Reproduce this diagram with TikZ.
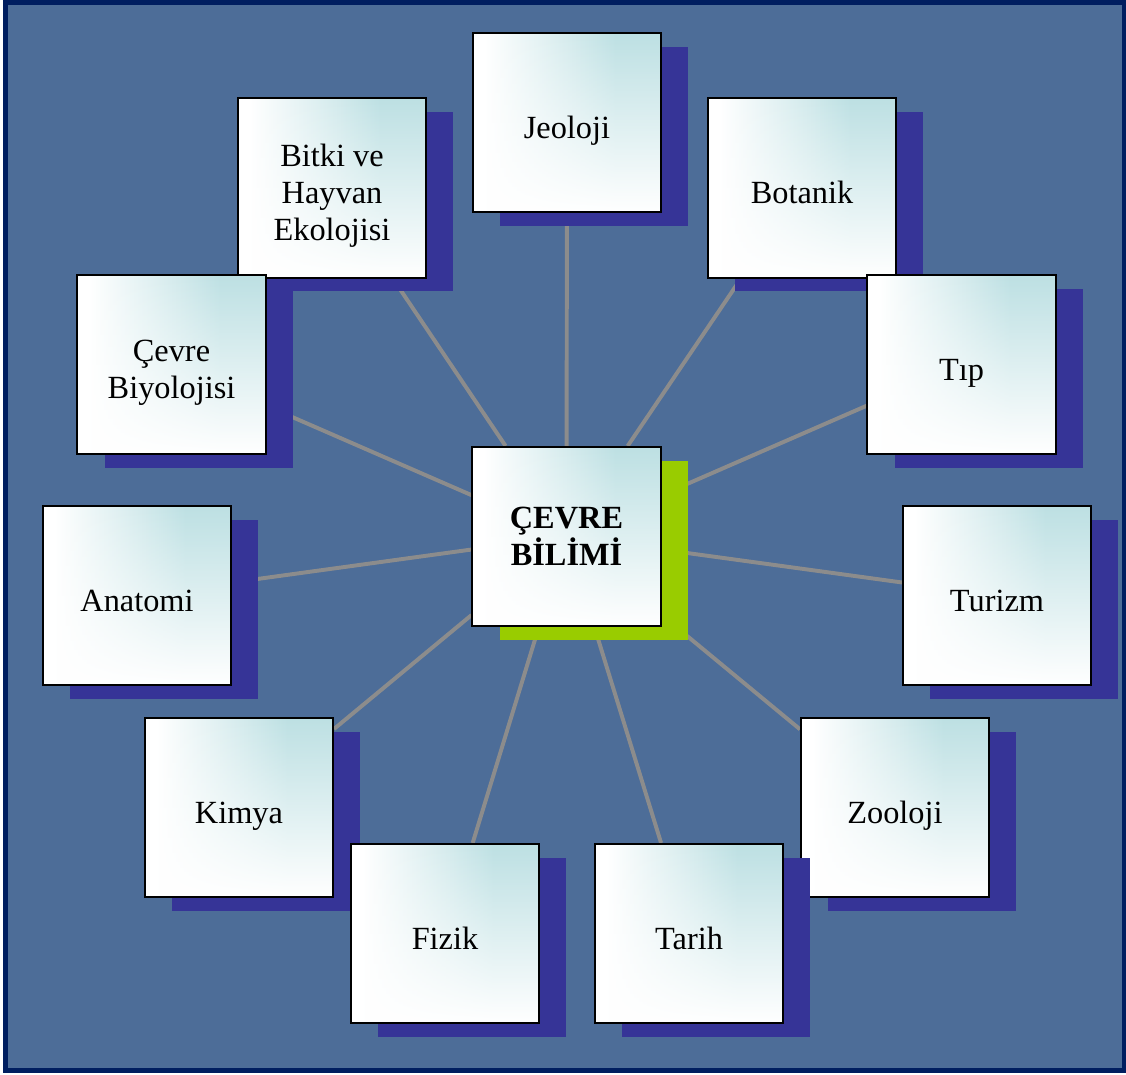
\documentclass[tikz,border=0pt]{standalone}
\usepackage{fontspec}
\setmainfont{Liberation Serif}
\usetikzlibrary{
  backgrounds,  % Layer for the links and the frame
  shadows,      % "general shadow" behind each box
  fadings,      % White fade at the bottom of each box
}
\definecolor{framenavy}{RGB}{0,30,96}
\definecolor{boardblue}{RGB}{77,109,152}
\definecolor{topicteal}{RGB}{189,224,227}
\definecolor{topicshadow}{RGB}{54,52,151}
\definecolor{coregreen}{RGB}{153,204,0}
\definecolor{linkgray}{RGB}{140,140,140}
\pgfdeclarehorizontalshading{topicglow}{100bp}{%
  color(0bp)=(white); color(28bp)=(white);
  color(63bp)=(topicteal); color(100bp)=(topicteal)}
\tikzfading[name=topicfade,
  bottom color=transparent!0,
  middle color=transparent!85,
  top color=transparent!100]
\def\myboxw{4.7cm}
\def\myboxh{4.475cm}
\def\myshx{0.68cm}
\def\myshy{-0.34cm}
\def\mydrop{0.42cm}
% Box text sits a little below the middle of the box
\newcommand{\boxtext}[1]{%
  \raisebox{0pt}[\dimexpr\height+\mydrop\relax][\depth]{%
    \begin{tabular}{@{}c@{}}#1\end{tabular}}}
\tikzset{
  font=\fontsize{23}{26.3}\selectfont,
  my frame/.style={
    draw=framenavy,
    fill=boardblue,
    line width=0.125cm
  },
  my topic/.style={
    shading=topicglow,
    line width=1.4pt,
    minimum width=\myboxw,
    minimum height=\myboxh,
    inner sep=1mm,
    general shadow={draw=none, fill=#1, shadow xshift=\myshx, shadow yshift=\myshy},
    postaction={fill=white, path fading=topicfade},
    postaction={draw=black, line width=1.4pt}
  },
  my topic/.default=topicshadow,
  my core/.style={
    my topic=coregreen,
    align=center,
    font=\fontsize{23}{26.3}\selectfont\bfseries
  },
  my link/.style={
    draw=linkgray,
    line width=2.8pt
  }
}

\begin{document}
\begin{tikzpicture}[x=0.025cm,y=-0.025cm]
\useasboundingbox (0,0) rectangle (1126,1075);
\begin{scope}[on background layer]
\draw[my frame] (5.5,2.5) rectangle (1124.5,1070.5);
\end{scope}
\node[my core]  (cevre)    at (566.5,536.5) {ÇEVRE\\BİLİMİ};
\node[my topic] (jeoloji)  at (567,122.5)   {\boxtext{Jeoloji}};
\node[my topic] (botanik)  at (802,188)     {\boxtext{Botanik}};
\node[my topic] (ekoloji)  at (332,188)     {\boxtext{Bitki ve\\Hayvan\\Ekolojisi}};
\node[my topic] (biyoloji) at (171.5,364.5) {\boxtext{Çevre\\Biyolojisi}};
\node[my topic] (tip)      at (961.5,364.5) {\boxtext{Tıp}};
\node[my topic] (anatomi)  at (137,595.5)   {\boxtext{Anatomi}};
\node[my topic] (turizm)   at (997,595.5)   {\boxtext{Turizm}};
\node[my topic] (kimya)    at (239,807.5)   {\boxtext{Kimya}};
\node[my topic] (zooloji)  at (895,807.5)   {\boxtext{Zooloji}};
\node[my topic] (fizik)    at (445,933.5)   {\boxtext{Fizik}};
\node[my topic] (tarih)    at (689,933.5)   {\boxtext{Tarih}};
\begin{scope}[on background layer]
\path[my link]
(cevre)
    edge (jeoloji)
    edge (botanik)
    edge (ekoloji)
    edge (biyoloji)
    edge (tip)
    edge (anatomi)
    edge (turizm)
    edge (kimya)
    edge (zooloji)
    edge (fizik)
    edge (tarih);
\end{scope}
\end{tikzpicture}
\end{document}
